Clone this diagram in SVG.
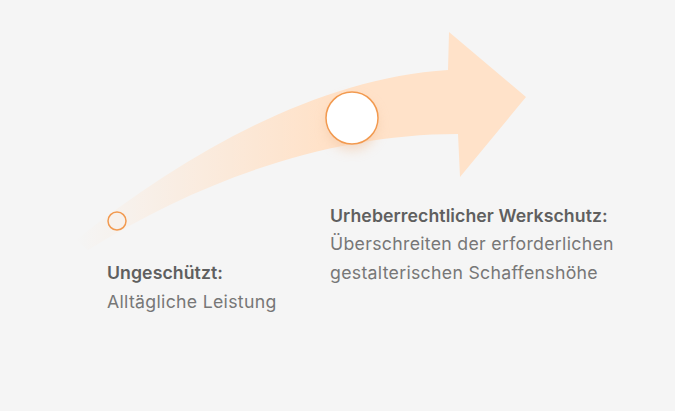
<svg xmlns="http://www.w3.org/2000/svg" width="675" height="411" viewBox="0 0 675 411">
<style>
.t{font-family:Inter,"Noto Sans","Liberation Sans",sans-serif;font-size:17.7px;fill:#777777;font-weight:400;letter-spacing:0.3px}
.b{font-weight:600;fill:#5f5f5f;letter-spacing:0.07px}
.c{stroke:#f29a50;stroke-width:1.5}
</style>
<defs>
<linearGradient id="g" gradientUnits="userSpaceOnUse" x1="75" y1="0" x2="320" y2="0">
<stop offset="0" stop-color="#ffe2c9" stop-opacity="0"/>
<stop offset="1" stop-color="#ffe2c9" stop-opacity="1"/>
</linearGradient>
<filter id="sh" x="-1" y="-1" width="3" height="3">
<feGaussianBlur stdDeviation="6"/>
</filter>
</defs>
<rect width="675" height="411" fill="#f5f5f5"/>
<g id="arrow">
<path d="M76,240 C190,150 320,78 448,70 L449,32 L526,97 L460,177 L458,134 C330,134 200,180 88,250 Z" fill="url(#g)"/>
</g>
<g id="connectors"></g>
<g id="node-ungeschuetzt">
<circle cx="117" cy="221" r="9" fill="#f7f1ec" class="c"/>
<text class="t b" x="107" y="279">Ungeschützt:</text>
<text class="t" x="107" y="308">Alltägliche Leistung</text>
</g>
<g id="node-werkschutz">
<circle cx="352" cy="124" r="26" fill="#f3c7a5" opacity="0.6" filter="url(#sh)"/>
<circle cx="352" cy="118" r="26" fill="#ffffff" class="c"/>
<text class="t b" x="330" y="222">Urheberrechtlicher Werkschutz:</text>
<text class="t" x="330" y="250">Überschreiten der erforderlichen</text>
<text class="t" x="330" y="279">gestalterischen Schaffenshöhe</text>
</g>
</svg>
